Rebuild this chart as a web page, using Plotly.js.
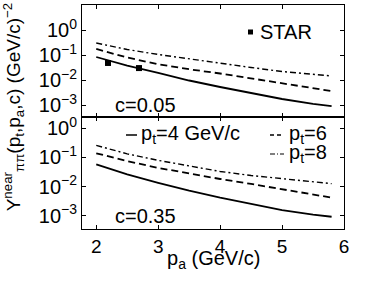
<!DOCTYPE html>
<html>
<head>
<meta charset="utf-8">
<script src="https://cdn.plot.ly/plotly-3.0.1.min.js"></script>
<style>
html,body{margin:0;padding:0;background:#fff;}
#chart{width:374px;height:281px;}
</style>
</head>
<body>
<div id="chart"></div>
<script>
// p_a values (GeV/c)
const pa = [2, 2.5, 3, 3.5, 4, 4.5, 5, 5.5, 5.8];

// c = 0.05 (top panel)
const top_pt4 = [0.0832, 0.0380, 0.0191, 0.00955, 0.00525, 0.00302, 0.00174, 0.00112, 0.00091];
const top_pt6 = [0.174, 0.0794, 0.0427, 0.0269, 0.0182, 0.0117, 0.0074, 0.0048, 0.0036];
const top_pt8 = [0.302, 0.166, 0.105, 0.069, 0.0457, 0.0316, 0.0219, 0.0166, 0.0145];

// STAR data (top panel)
const star_pa = [2.19, 2.69];
const star_y = [0.048, 0.030];

// c = 0.35 (bottom panel)
const bot_pt4 = [0.0575, 0.0263, 0.0135, 0.00724, 0.00417, 0.00251, 0.00158, 0.0011, 0.00093];
const bot_pt6 = [0.138, 0.0741, 0.0437, 0.0275, 0.0182, 0.0123, 0.0083, 0.0054, 0.0042];
const bot_pt8 = [0.257, 0.132, 0.079, 0.050, 0.033, 0.024, 0.0186, 0.0145, 0.0126];

const xTicks = [2, 3, 4, 5, 6];
const yTickVals = [1e-3, 1e-2, 1e-1, 1];
const yTickText = ['10<sup>−3</sup>', '10<sup>−2</sup>', '10<sup>−1</sup>', '10<sup>0</sup>'];

const FONT = 'Liberation Sans, Arial, Helvetica, sans-serif';
const lw = 1.8;
const TS = 20;
const DASH = '7px,4px';
const DASHDOT = '6px,3px,2px,3px';

const traces = [
  {x: pa, y: top_pt4, xaxis: 'x2', yaxis: 'y2', mode: 'lines', line: {color: '#000', width: lw, dash: 'solid'}},
  {x: pa, y: top_pt6, xaxis: 'x2', yaxis: 'y2', mode: 'lines', line: {color: '#000', width: lw, dash: DASH}},
  {x: pa, y: top_pt8, xaxis: 'x2', yaxis: 'y2', mode: 'lines', line: {color: '#000', width: 1.4, dash: DASHDOT}},
  {x: star_pa, y: star_y, xaxis: 'x2', yaxis: 'y2', mode: 'markers', marker: {symbol: 'square', size: 6, color: '#000'}},
  {x: pa, y: bot_pt4, xaxis: 'x', yaxis: 'y', mode: 'lines', line: {color: '#000', width: lw, dash: 'solid'}},
  {x: pa, y: bot_pt6, xaxis: 'x', yaxis: 'y', mode: 'lines', line: {color: '#000', width: lw, dash: DASH}},
  {x: pa, y: bot_pt8, xaxis: 'x', yaxis: 'y', mode: 'lines', line: {color: '#000', width: 1.4, dash: DASHDOT}}
];

const axCommon = {
  showline: true, linecolor: '#000', linewidth: 1, mirror: 'ticks',
  ticks: 'inside', ticklen: 4, tickcolor: '#000', tickwidth: 1,
  showgrid: false, zeroline: false
};

const layout = {
  width: 374, height: 281,
  margin: {l: 82, r: 30, t: 5, b: 52},
  paper_bgcolor: '#fff', plot_bgcolor: '#fff',
  showlegend: false,
  font: {family: FONT, color: '#000', size: TS},
  xaxis: Object.assign({}, axCommon, {
    domain: [0, 1], anchor: 'y', range: [1.77, 6], tickvals: xTicks,
    tickfont: {size: 19, family: FONT}
  }),
  xaxis2: Object.assign({}, axCommon, {
    domain: [0, 1], anchor: 'y2', range: [1.77, 6], tickvals: xTicks,
    showticklabels: false
  }),
  yaxis: Object.assign({}, axCommon, {
    domain: [0, 0.5], anchor: 'x', type: 'log', range: [-3.45, 0.38],
    tickvals: yTickVals, ticktext: yTickText, tickfont: {size: 20, family: FONT}
  }),
  yaxis2: Object.assign({}, axCommon, {
    domain: [0.5, 1], anchor: 'x2', type: 'log', range: [-3.48, 1.0],
    tickvals: yTickVals, ticktext: yTickText, tickfont: {size: 20, family: FONT}
  }),
  annotations: [
    {xref: 'paper', yref: 'paper', x: -0.258, y: 0.545, textangle: -90,
     text: 'Y<sup>near</sup><sub>ππ</sub>(p<sub>t</sub>,p<sub>a</sub>,c) (GeV/c)<sup>−2</sup>',
     showarrow: false, font: {size: 19, family: FONT}, xanchor: 'center', yanchor: 'middle'},
    {xref: 'paper', yref: 'paper', x: 0.5, y: -0.134,
     text: 'p<sub>a</sub> (GeV/c)', showarrow: false, font: {size: TS, family: FONT},
     xanchor: 'center', yanchor: 'middle'},
    {xref: 'paper', yref: 'paper', x: (113 - 82) / 262, y: (229 - 105) / 224,
     text: 'c=0.05', showarrow: false, font: {size: TS, family: FONT}, xanchor: 'left', yanchor: 'middle'},
    {xref: 'paper', yref: 'paper', x: (113 - 82) / 262, y: (229 - 216) / 224,
     text: 'c=0.35', showarrow: false, font: {size: TS, family: FONT}, xanchor: 'left', yanchor: 'middle'},
    {xref: 'paper', yref: 'paper', x: (258 - 82) / 262, y: (229 - 32) / 224,
     text: 'STAR', showarrow: false, font: {size: TS, family: FONT}, xanchor: 'left', yanchor: 'middle'},
    {xref: 'paper', yref: 'paper', x: (139 - 82) / 262, y: (229 - 134) / 224,
     text: 'p<sub>t</sub>=4 GeV/c', showarrow: false, font: {size: TS, family: FONT}, xanchor: 'left', yanchor: 'middle'},
    {xref: 'paper', yref: 'paper', x: (287 - 82) / 262, y: (229 - 134) / 224,
     text: 'p<sub>t</sub>=6', showarrow: false, font: {size: TS, family: FONT}, xanchor: 'left', yanchor: 'middle'},
    {xref: 'paper', yref: 'paper', x: (287 - 82) / 262, y: (229 - 153) / 224,
     text: 'p<sub>t</sub>=8', showarrow: false, font: {size: TS, family: FONT}, xanchor: 'left', yanchor: 'middle'}
  ],
  shapes: [
    // STAR legend marker
    {type: 'rect', xref: 'paper', yref: 'paper',
     x0: (248 - 82) / 262, x1: (253 - 82) / 262, y0: (229 - 34.5) / 224, y1: (229 - 29.5) / 224,
     fillcolor: '#000', line: {width: 0}},
    // legend line samples
    {type: 'line', xref: 'paper', yref: 'paper',
     x0: (126 - 82) / 262, x1: (137 - 82) / 262, y0: (229 - 135) / 224, y1: (229 - 135) / 224,
     line: {color: '#000', width: 1.5}},
    {type: 'line', xref: 'paper', yref: 'paper',
     x0: (270 - 82) / 262, x1: (284 - 82) / 262, y0: (229 - 135) / 224, y1: (229 - 135) / 224,
     line: {color: '#000', width: 1.5, dash: '4px,3px'}},
    {type: 'line', xref: 'paper', yref: 'paper',
     x0: (270 - 82) / 262, x1: (284 - 82) / 262, y0: (229 - 154) / 224, y1: (229 - 154) / 224,
     line: {color: '#000', width: 1.2, dash: '5px,2px,1px,2px'}}
  ]
};

Plotly.newPlot('chart', traces, layout, {displayModeBar: false, staticPlot: true});
</script>
</body>
</html>
